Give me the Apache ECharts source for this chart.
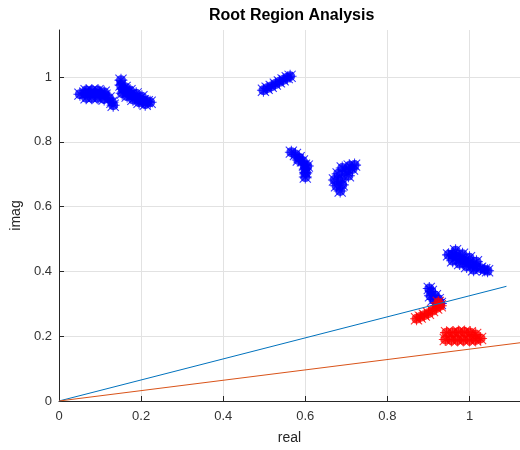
<!DOCTYPE html>
<html>
<head>
<meta charset="utf-8">
<script src="https://cdn.jsdelivr.net/npm/echarts@6/dist/echarts.min.js"></script>
<style>html,body{margin:0;padding:0;background:#fff}#c{width:520px;height:450px}</style>
</head>
<body>
<div id="c"></div>
<script>
// ---- data ----
const chartTitle = 'Root Region Analysis';
const xLabel = 'real';
const yLabel = 'imag';
const xTicks = [0, 0.2, 0.4, 0.6, 0.8, 1];
const yTicks = [0, 0.2, 0.4, 0.6, 0.8, 1];
const xMax = 1.123;
const yMax = 1.145;

// blue roots (sampled across each region)
const blueRoots = [
  // cluster near (0.09, 0.94)
  [0.051,0.947],[0.063,0.950],[0.076,0.950],[0.088,0.950],[0.100,0.948],[0.112,0.944],[0.122,0.935],[0.129,0.922],[0.132,0.913],
  [0.066,0.958],[0.080,0.958],[0.095,0.958],[0.110,0.953],
  [0.066,0.936],[0.080,0.936],[0.095,0.936],[0.110,0.932],
  // cluster near (0.18, 0.94)
  [0.151,0.990],[0.151,0.975],[0.156,0.962],[0.166,0.953],[0.176,0.945],[0.185,0.938],[0.195,0.931],[0.205,0.927],[0.215,0.924],[0.222,0.922],
  [0.161,0.968],[0.173,0.958],[0.188,0.948],[0.202,0.939],
  [0.154,0.950],[0.166,0.941],[0.180,0.931],[0.195,0.922],[0.210,0.916],
  // cluster near (0.53, 0.98)
  [0.498,0.959],[0.507,0.965],[0.517,0.971],[0.527,0.978],[0.537,0.985],[0.546,0.991],[0.556,0.998],[0.563,1.002],
  // cluster near (0.59, 0.73)
  [0.566,0.768],[0.576,0.761],[0.585,0.751],[0.593,0.741],[0.598,0.728],[0.600,0.716],[0.601,0.704],[0.600,0.691],[0.583,0.744],[0.605,0.725],
  // cluster near (0.69, 0.69)
  [0.685,0.648],[0.676,0.664],[0.690,0.667],[0.671,0.682],[0.688,0.685],[0.705,0.695],[0.680,0.701],[0.700,0.710],[0.715,0.716],[0.690,0.719],[0.707,0.725],[0.720,0.728],
  // cluster near (1.0, 0.43)
  [0.949,0.451],[0.959,0.451],[0.968,0.445],[0.978,0.439],[0.988,0.433],[0.998,0.427],[1.007,0.421],[1.017,0.415],[1.027,0.410],[1.037,0.405],[1.044,0.402],
  [0.966,0.464],[0.983,0.453],[1.000,0.442],[1.017,0.430],
  [0.959,0.433],[0.976,0.424],[0.993,0.415],[1.010,0.405],
  // cluster near (0.91, 0.32)
  [0.902,0.347],[0.907,0.338],[0.905,0.325],[0.917,0.325],[0.912,0.313],[0.924,0.313],[0.920,0.301],[0.929,0.301]
];

// red roots
const redRoots = [
  // cluster near (0.9, 0.28)
  [0.871,0.254],[0.880,0.259],[0.890,0.265],[0.900,0.271],[0.910,0.279],[0.920,0.287],[0.929,0.294],[0.924,0.304],
  // cluster near (0.98, 0.2)
  [0.944,0.211],[0.959,0.211],[0.973,0.213],[0.988,0.213],[1.002,0.211],[1.015,0.205],
  [0.941,0.190],[0.956,0.188],[0.971,0.188],[0.985,0.188],[1.000,0.188],[1.015,0.188],[1.027,0.193]
];

// damping-ratio boundary lines
const lineBlue = [[0,0],[1.09,0.354]];
const lineOrange = [[0,0],[1.2,0.192]];

// ---- chart ----
const star = 'path://M0 46L100 46L100 54L0 54Z M46 0L54 0L54 100L46 100Z M4.2 9.9L9.9 4.2L95.8 90.1L90.1 95.8Z M90.1 4.2L95.8 9.9L9.9 95.8L4.2 90.1Z';
const FONT = '"Liberation Sans", Arial, Helvetica, sans-serif';
const GRID = '#e2e2e2';

function axisCommon(ticks, max, name, gap) {
  return {
    type: 'value', min: 0, max: max, interval: 0.2,
    name: name, nameLocation: 'middle', nameGap: gap,
    nameTextStyle: { fontFamily: FONT, fontSize: 14, color: '#262626' },
    axisLine: { show: true, onZero: false, lineStyle: { color: '#262626', width: 1 } },
    axisTick: { show: true, inside: true, length: 5, customValues: ticks, lineStyle: { color: '#262626' } },
    axisLabel: { customValues: ticks, fontFamily: FONT, fontSize: 13, color: '#333333',
      formatter: v => String(Math.round(v * 10) / 10) },
    splitLine: { show: false }
  };
}

const chart = echarts.init(document.getElementById('c'), null, { renderer: 'canvas' });
const xa = axisCommon(xTicks, xMax, xLabel, 30);
xa.axisLabel.margin = 9;
const ya = axisCommon(yTicks, yMax, yLabel, 34);
ya.axisLabel.margin = 7;

const gridLines = xTicks.filter(v => v > 0).map(v => ({ xAxis: v }))
  .concat(yTicks.filter(v => v > 0).map(v => ({ yAxis: v })));

chart.setOption({
  animation: false,
  backgroundColor: '#ffffff',
  grid: { left: 59, right: 0, top: 30, bottom: 48, containLabel: false },
  xAxis: xa,
  yAxis: ya,
  graphic: [{
    type: 'text', left: 292 - 83, top: 8,
    style: { text: chartTitle, font: 'bold 16px ' + FONT, fill: '#000' }
  }],
  series: [
    { type: 'scatter', data: [], silent: true, z: 0,
      markLine: { silent: true, z: 0, symbol: 'none', label: { show: false }, animation: false,
        lineStyle: { color: GRID, type: 'solid', width: 1 }, emphasis: { disabled: true }, data: gridLines } },
    { type: 'scatter', data: blueRoots, symbol: 'circle', symbolSize: 10, itemStyle: { color: '#0000ff' }, z: 2 },
    { type: 'scatter', data: blueRoots, symbol: star, symbolSize: 13, itemStyle: { color: '#0000ff' }, z: 2 },
    { type: 'scatter', data: redRoots, symbol: 'circle', symbolSize: 10, itemStyle: { color: '#ff0000' }, z: 3 },
    { type: 'scatter', data: redRoots, symbol: star, symbolSize: 13, itemStyle: { color: '#ff0000' }, z: 3 },
    { type: 'line', data: lineBlue, showSymbol: false, symbol: 'none', lineStyle: { color: '#0072bd', width: 1 }, z: 4 },
    { type: 'line', data: lineOrange, showSymbol: false, symbol: 'none', lineStyle: { color: '#d95319', width: 1 }, z: 4 }
  ]
});
</script>
</body>
</html>
